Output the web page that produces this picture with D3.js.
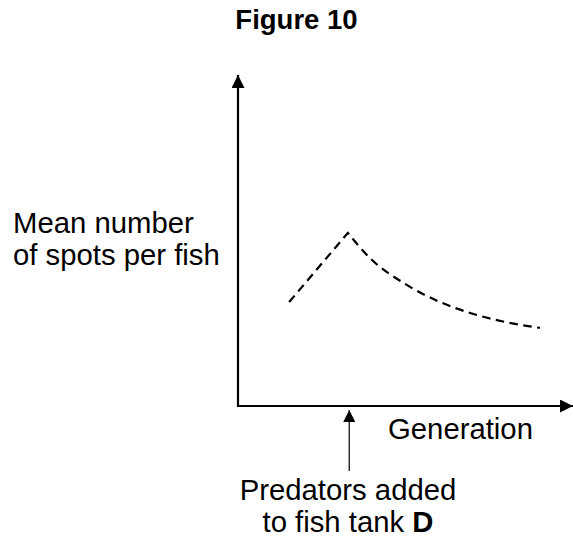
<!DOCTYPE html>
<html>
<head>
<meta charset="utf-8">
<script src="https://cdn.jsdelivr.net/npm/d3@7"></script>
<style>
  html, body { margin: 0; padding: 0; background: #fff; }
  svg { display: block; font-family: "Liberation Sans", Arial, Helvetica, sans-serif; }
</style>
</head>
<body>
<svg id="chart" width="573" height="541"></svg>
<script>
// Data (arbitrary units, sketch graph without numeric ticks)
const generation = [15.3, 32.9, 39.5, 50.0, 60.5, 69.5, 79.9, 90.4];
const meanSpots  = [31.4, 52.3, 44.7, 36.9, 31.4, 28.1, 25.4, 23.6];
const predatorGeneration = 33.3;
const titleText = "Figure 10";
const yLabelLines = ["Mean number", "of spots per fish"];
const xLabelText = "Generation";
const annotationLines = ["Predators added", "to fish tank "];
const annotationBold = "D";

const svg = d3.select("#chart");
const x0 = 238, y0 = 406, xEnd = 572, yTop = 75;

const x = d3.scaleLinear().domain([0, 100]).range([x0, xEnd]);
const y = d3.scaleLinear().domain([0, 100]).range([y0, yTop]);

// arrowhead markers
const defs = svg.append("defs");
defs.append("marker").attr("id", "ah")
  .attr("viewBox", "0 0 10 10").attr("refX", 10).attr("refY", 5)
  .attr("markerUnits", "userSpaceOnUse")
  .attr("markerWidth", 13).attr("markerHeight", 13)
  .attr("orient", "auto")
  .append("path").attr("d", "M0,0L10,5L0,10Z").attr("fill", "#000");

// Axes
svg.append("line")
  .attr("x1", x(0)).attr("y1", y(0) + 1).attr("x2", x(0)).attr("y2", y(100))
  .attr("stroke", "#000").attr("stroke-width", 2.2).attr("marker-end", "url(#ah)");
svg.append("line")
  .attr("x1", x(0) - 1).attr("y1", y(0)).attr("x2", x(100) + 1).attr("y2", y(0))
  .attr("stroke", "#000").attr("stroke-width", 2.2).attr("marker-end", "url(#ah)");

// Data line: rising part straight, falling part curved
const pts = generation.map((g, i) => [g, meanSpots[i]]);
const peakIdx = meanSpots.indexOf(d3.max(meanSpots));
const rising = pts.slice(0, peakIdx + 1);
const falling = pts.slice(peakIdx);

const lineLin = d3.line().x(d => x(d[0])).y(d => y(d[1]));
const lineCurve = d3.line().x(d => x(d[0])).y(d => y(d[1])).curve(d3.curveMonotoneX);

// join both parts into one path so the dash pattern runs continuously
const fallD = lineCurve(falling).replace(/^M/, "L");
svg.append("path").attr("d", lineLin(rising) + fallD)
  .attr("fill", "none").attr("stroke", "#000").attr("stroke-width", 2.2)
  .attr("stroke-dasharray", "8.5,5.5");

// Predator arrow
defs.append("marker").attr("id", "ah2")
  .attr("viewBox", "0 0 10 10").attr("refX", 10).attr("refY", 5)
  .attr("markerUnits", "userSpaceOnUse")
  .attr("markerWidth", 12).attr("markerHeight", 12)
  .attr("orient", "auto")
  .append("path").attr("d", "M0,0L10,5L0,10Z").attr("fill", "#000");
svg.append("line")
  .attr("x1", x(predatorGeneration)).attr("y1", 471)
  .attr("x2", x(predatorGeneration)).attr("y2", 410)
  .attr("stroke", "#000").attr("stroke-width", 1.2).attr("marker-end", "url(#ah2)");

// Title
svg.append("text").attr("x", 296.5).attr("y", 29)
  .attr("text-anchor", "middle").attr("font-weight", "bold").attr("font-size", 27.5)
  .text(titleText);

// Y label
svg.append("g").selectAll("text").data(yLabelLines).join("text")
  .attr("x", 13).attr("y", (d, i) => 233 + i * 32)
  .attr("font-size", 29.3).text(d => d);

// X label
svg.append("text").attr("x", 388).attr("y", 439)
  .attr("font-size", 29.3).text(xLabelText);

// Annotation
svg.append("text").attr("x", 348).attr("y", 500)
  .attr("text-anchor", "middle").attr("font-size", 29.3).text(annotationLines[0]);
const t2 = svg.append("text").attr("x", 348).attr("y", 532)
  .attr("text-anchor", "middle").attr("font-size", 29.3);
t2.append("tspan").text(annotationLines[1]);
t2.append("tspan").attr("font-weight", "bold").text(annotationBold);
</script>
</body>
</html>
